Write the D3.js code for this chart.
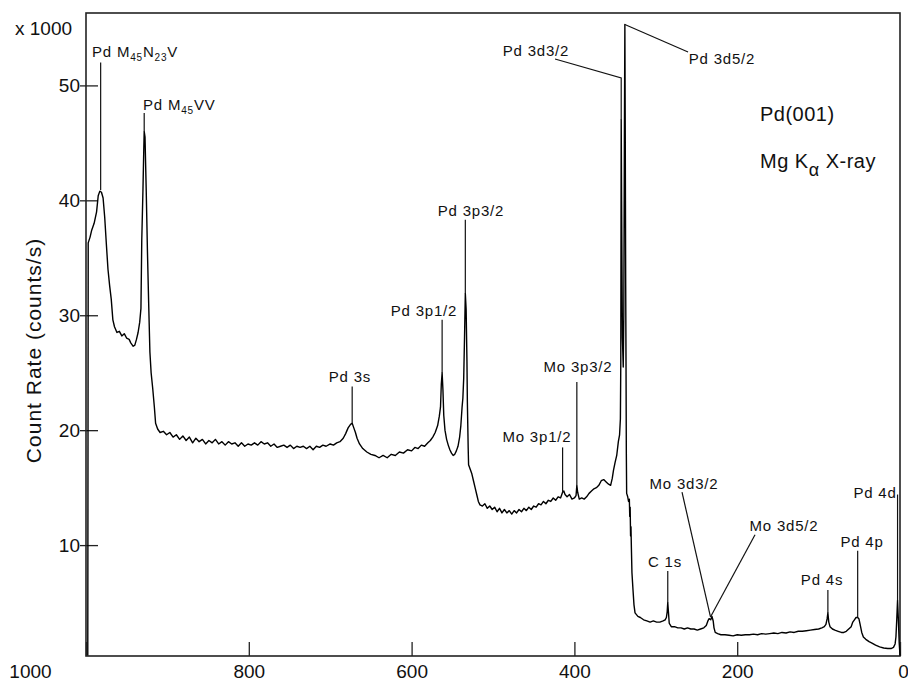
<!DOCTYPE html>
<html><head><meta charset="utf-8">
<script src="https://cdn.jsdelivr.net/npm/d3@7"></script>
<style>
body{margin:0;background:#fff}
text{font-family:"Liberation Sans",Arial,sans-serif;fill:#111}
</style>
</head><body>
<svg id="chart" width="908" height="685"></svg>
<script>
// Binding energy (eV) and count rate (x1000 counts/s)
const bindingEnergy = [
 997.8, 997.3, 995, 993, 990, 987, 985, 983, 981, 979,
 977, 975, 973, 971, 969, 967, 965, 962, 959, 956,
 953, 950, 947, 945, 942, 940, 938, 936, 934, 932.5,
 931.5, 930, 929, 928.5, 927.5, 926, 924.5, 923, 921.5, 920,
 918, 916, 914.5, 912, 909, 905, 901, 897, 893, 889,
 885, 881, 877, 873, 869, 865, 861, 857, 853, 849,
 845, 841, 837, 833, 829, 825, 821, 817, 813, 809,
 805, 801, 797, 793, 789, 785, 781, 777, 773, 769,
 765, 761, 757, 753, 749, 745, 741, 737, 733, 729,
 725, 721, 717, 713, 709, 705, 700, 696, 692, 688,
 684, 681, 678, 675, 673, 671, 669, 667, 664, 660,
 655, 650, 645, 640, 635, 630, 625, 620, 615, 610,
 605, 600, 596, 592, 588, 584, 580, 577, 574, 571,
 568, 566, 564.5, 563.5, 562.5, 561.5, 560.5, 559, 557, 555,
 553, 551, 549, 547, 545, 543, 541, 539.5, 538, 537,
 536, 535, 534, 533, 532, 531.5, 530.5, 530, 528, 526,
 524, 522, 520, 518, 516, 513, 510, 507, 504, 501,
 498, 495, 492, 489, 486, 483, 480, 477, 474, 471,
 468, 465, 462, 459, 456, 453, 450, 447, 444, 441,
 438, 435, 432, 429, 426, 423, 420, 417, 414.5, 413,
 411.5, 409, 406, 403, 400, 398, 397, 396, 394, 391,
 388, 385, 382, 379, 376, 373, 370, 367, 364, 361,
 358, 355.5, 353.5, 352, 350, 348, 346, 344.5, 343.5, 343,
 342.5, 342, 341, 340, 339.3, 338.6, 338, 337.5, 337, 336.6,
 336.2, 335.8, 334.5, 333.5, 332.5, 332, 331.5, 331, 330.5, 330,
 329.3, 328, 326.8, 325.5, 322, 319, 315, 311, 307, 303,
 299, 295, 291, 288.5, 287, 286, 285.3, 284.5, 283.5, 281,
 277, 273, 269, 265, 261, 257, 253, 249, 245, 241,
 238, 236, 234.5, 232.5, 231, 229.5, 228.5, 227, 224, 220,
 215, 210, 205, 200, 195, 190, 185, 180, 175, 170,
 165, 160, 155, 150, 145, 140, 135, 130, 125, 120,
 115, 110, 105, 100, 96, 93, 91, 89.5, 88.6, 87.5,
 86, 83, 80, 76, 72, 69, 66, 63, 60, 58,
 56, 54, 52, 50.5, 49, 47, 45, 42, 38, 35,
 30, 25, 20, 15, 11, 8, 6, 5, 4, 3,
 2, 1, 0
];
const countRate = [
 0.4, 36.3, 36.8, 37.4, 38.0, 39.0, 40.4, 40.8, 40.7, 40.2,
 38.5, 36.2, 34.0, 32.6, 31.4, 29.6, 29.0, 28.5, 28.6, 28.2,
 28.4, 28.0, 27.9, 27.6, 27.3, 27.4, 27.9, 28.5, 29.4, 30.6,
 36.5, 41.0, 44.5, 46.0, 45.5, 40.8, 35.5, 31.0, 26.8, 25.0,
 23.6, 22.0, 20.6, 20.1, 19.8, 19.9, 19.6, 19.8, 19.4, 19.6,
 19.2, 19.5, 19.1, 19.4, 18.9, 19.3, 19.0, 19.2, 18.8, 19.1,
 18.9, 19.2, 18.8, 19.0, 18.7, 19.0, 18.8, 18.9, 18.6, 18.9,
 18.6, 18.8, 18.7, 18.9, 18.7, 19.0, 18.8, 18.9, 18.6, 18.8,
 18.5, 18.6, 18.7, 18.5, 18.7, 18.4, 18.6, 18.5, 18.6, 18.4,
 18.6, 18.3, 18.6, 18.5, 18.7, 18.6, 18.8, 18.7, 18.9, 19.0,
 19.3, 19.7, 20.2, 20.5, 20.6, 20.2, 19.8, 19.3, 18.8, 18.4,
 18.1, 17.9, 17.8, 17.6, 17.8, 17.6, 17.9, 17.8, 18.1, 18.0,
 18.3, 18.2, 18.5, 18.4, 18.7, 18.6, 18.9, 19.1, 19.4, 19.8,
 20.4, 21.2, 22.0, 24.0, 25.0, 23.5, 21.3, 20.0, 19.2, 18.7,
 18.3, 18.0, 17.8, 17.9, 18.2, 18.6, 19.4, 20.4, 22.0, 22.8,
 24.5, 28.0, 31.9, 30.5, 26.0, 22.5, 18.5, 17.0, 16.6, 16.2,
 15.6, 15.0, 14.4, 13.8, 13.5, 13.4, 13.6, 13.2, 13.4, 13.1,
 13.3, 12.9, 13.2, 12.8, 13.1, 12.8, 13.0, 12.7, 13.0, 12.8,
 13.1, 12.9, 13.2, 13.0, 13.3, 13.1, 13.4, 13.3, 13.6, 13.5,
 13.8, 13.6, 13.9, 13.8, 14.1, 13.9, 14.2, 14.1, 14.6, 14.7,
 14.4, 14.2, 14.4, 14.0, 14.1, 14.3, 15.2, 14.6, 14.0, 14.1,
 14.0, 14.2, 14.5, 14.7, 14.9, 15.0, 15.2, 15.6, 15.7, 15.5,
 15.3, 15.2, 15.8, 16.5, 17.2, 17.8, 19.0, 19.6, 21.0, 26,
 47.0, 40, 28, 25.5, 30, 45, 55.3, 45, 33, 26,
 18, 14.5, 14.2, 13.8, 14.0, 12.5, 13.3, 10.8, 11.6, 9.8,
 7.6, 6.1, 4.8, 4.1, 3.8, 3.7, 3.5, 3.4, 3.3, 3.4,
 3.3, 3.3, 3.4, 3.5, 3.7, 4.2, 5.0, 4.2, 3.2, 2.9,
 2.9, 2.8, 2.8, 2.7, 2.8, 2.7, 2.7, 2.6, 2.7, 2.8,
 3.0, 3.4, 3.6, 3.5, 3.8, 3.4, 2.8, 2.4, 2.3, 2.2,
 2.2, 2.15, 2.1, 2.2, 2.15, 2.2, 2.2, 2.25, 2.2, 2.3,
 2.25, 2.3, 2.35, 2.3, 2.4, 2.35, 2.45, 2.4, 2.5, 2.5,
 2.55, 2.6, 2.65, 2.7, 2.8, 2.9, 3.1, 3.6, 4.1, 3.3,
 2.9, 2.7, 2.6, 2.5, 2.4, 2.4, 2.5, 2.7, 2.9, 3.3,
 3.5, 3.7, 3.7, 3.6, 3.1, 2.4, 2.0, 1.8, 1.6, 1.5,
 1.3, 1.15, 1.05, 1.0, 1.0, 1.1, 1.4, 2.0, 3.5, 5.2,
 3.5, 1.5, 0.4
];

const xTickValues = [1000, 800, 600, 400, 200, 0];
const yTickValues = [10, 20, 30, 40, 50];
const yUnitLabel = "x 1000";
const yAxisTitle = "Count Rate (counts/s)";

// Peak labels: text parts ([text, isSubscript]), anchor point (E, count) and leader path
const peakLabels = [
  {parts: [["Pd M"], ["45", 1], ["N"], ["23", 1], ["V"]], E: 992.6, v: 52.5, anchor: "start", leader: [[982, 52.0], [982, 40.9]]},
  {parts: [["Pd M"], ["45", 1], ["VV"]], E: 930, v: 47.9, anchor: "start", leader: [[928.5, 47.6], [928.5, 46.0]]},
  {parts: [["Pd 3d3/2"]], E: 447.2, v: 52.6, anchor: "middle", leader: [[423.8, 52.3], [342.5, 50.65], [342.5, 47.0]]},
  {parts: [["Pd 3d5/2"]], E: 218.7, v: 51.9, anchor: "middle", leader: [[260.4, 52.9], [338, 55.3]]},
  {parts: [["Pd 3p3/2"]], E: 527, v: 38.6, anchor: "middle", leader: [[534, 38.3], [534, 31.9]]},
  {parts: [["Pd 3p1/2"]], E: 584.8, v: 29.9, anchor: "middle", leader: [[562.5, 29.6], [562.5, 25.0]]},
  {parts: [["Pd 3s"]], E: 675.7, v: 24.2, anchor: "middle", leader: [[673, 23.8], [673, 20.6]]},
  {parts: [["Mo 3p3/2"]], E: 395.6, v: 25.1, anchor: "middle", leader: [[397, 24.2], [397, 15.2]]},
  {parts: [["Mo 3p1/2"]], E: 446, v: 19.0, anchor: "middle", leader: [[414.5, 18.5], [414.5, 14.6]]},
  {parts: [["Mo 3d3/2"]], E: 265.4, v: 14.9, anchor: "middle", leader: [[267.8, 14.6], [232.8, 3.75]]},
  {parts: [["Mo 3d5/2"]], E: 142.5, v: 11.2, anchor: "middle", leader: [[178.1, 10.9], [232.8, 3.75]]},
  {parts: [["C 1s"]], E: 288.7, v: 8.1, anchor: "middle", leader: [[285.3, 7.75], [285.3, 5.0]]},
  {parts: [["Pd 4s"]], E: 95.8, v: 6.5, anchor: "middle", leader: [[88.6, 6.1], [88.6, 4.1]]},
  {parts: [["Pd 4p"]], E: 46.7, v: 9.8, anchor: "middle", leader: [[52, 9.5], [52, 3.7]]},
  {parts: [["Pd 4d"]], E: 30.7, v: 14.1, anchor: "middle", leader: [[3, 14.4], [3, 5.2]]}
];
const sampleInfo = [
  {parts: [["Pd(001)"]], E: 172, v: 46.9},
  {parts: [["Mg K"], ["α", 1], [" X-ray"]], E: 172, v: 42.8}
];

const svg = d3.select("#chart");
svg.append("rect").attr("width", 908).attr("height", 685).attr("fill", "#fff");

const x = d3.scaleLinear().domain([1000, 0]).range([86, 900]);
const y = d3.scaleLinear().domain([0.35, 56.3]).range([656, 13]);

// frame
svg.append("rect")
  .attr("x", x(1000)).attr("y", y(56.3))
  .attr("width", x(0) - x(1000)).attr("height", y(0.35) - y(56.3))
  .attr("fill", "none").attr("stroke", "#222").attr("stroke-width", 1.6);

// x axis
const gx = svg.append("g").attr("transform", `translate(0,${y(0.35)})`)
  .call(d3.axisBottom(x).tickValues(xTickValues).tickSizeInner(-14).tickSizeOuter(0).tickPadding(9).tickFormat(d3.format("d")));
gx.select(".domain").remove();
gx.selectAll("line").attr("stroke", "#222").attr("stroke-width", 1.3);
gx.selectAll("text").attr("font-size", 19).attr("fill", "#111")
  .attr("font-family", '"Liberation Sans",Arial,sans-serif')
  .attr("dx", d => d === 1000 ? -56 : (d === 0 ? 3 : 0));

// y axis
const gy = svg.append("g").attr("transform", `translate(${x(1000)},0)`)
  .call(d3.axisLeft(y).tickValues(yTickValues).tickSizeInner(-12).tickSizeOuter(0).tickPadding(6));
gy.select(".domain").remove();
gy.selectAll("line").attr("x1", -6).attr("x2", 12).attr("stroke", "#222").attr("stroke-width", 1.3);
gy.selectAll("text").attr("font-size", 19).attr("fill", "#111")
  .attr("font-family", '"Liberation Sans",Arial,sans-serif');

svg.append("text").attr("x", x(1000) - 71).attr("y", y(56.3) + 22)
  .attr("font-size", 19).text(yUnitLabel);

svg.append("text")
  .attr("transform", `translate(41,${(y(0.35) + y(56.3)) / 2 + 16}) rotate(-90)`)
  .attr("text-anchor", "middle").attr("font-size", 21).attr("letter-spacing", 1)
  .text(yAxisTitle);

// spectrum
const pts = bindingEnergy.map((e, i) => [e, countRate[i]]);
const line = d3.line().x(d => x(d[0])).y(d => y(d[1]));
svg.append("path").datum(pts).attr("d", line)
  .attr("fill", "none").attr("stroke", "#000").attr("stroke-width", 1.4)
  .attr("stroke-linejoin", "round");

// labels
function drawParts(sel, parts, subSize, shift) {
  let prevSub = false;
  parts.forEach(p => {
    const sub = !!p[1];
    const t = sel.append("tspan").text(p[0]);
    if (sub && !prevSub) t.attr("dy", shift).attr("font-size", subSize);
    else if (!sub && prevSub) t.attr("dy", -shift);
    else if (sub) t.attr("font-size", subSize);
    prevSub = sub;
  });
}
peakLabels.forEach(L => {
  svg.append("path").datum(L.leader).attr("d", line)
    .attr("fill", "none").attr("stroke", "#111").attr("stroke-width", 1.2);
  const t = svg.append("text").attr("x", x(L.E)).attr("y", y(L.v))
    .attr("text-anchor", L.anchor).attr("font-size", 15).attr("letter-spacing", 0.8);
  drawParts(t, L.parts, 10, 4);
});
sampleInfo.forEach(S => {
  const t = svg.append("text").attr("x", x(S.E)).attr("y", y(S.v))
    .attr("font-size", 20).attr("letter-spacing", 0.5);
  drawParts(t, S.parts, 18, 8);
});
</script>
</body></html>
